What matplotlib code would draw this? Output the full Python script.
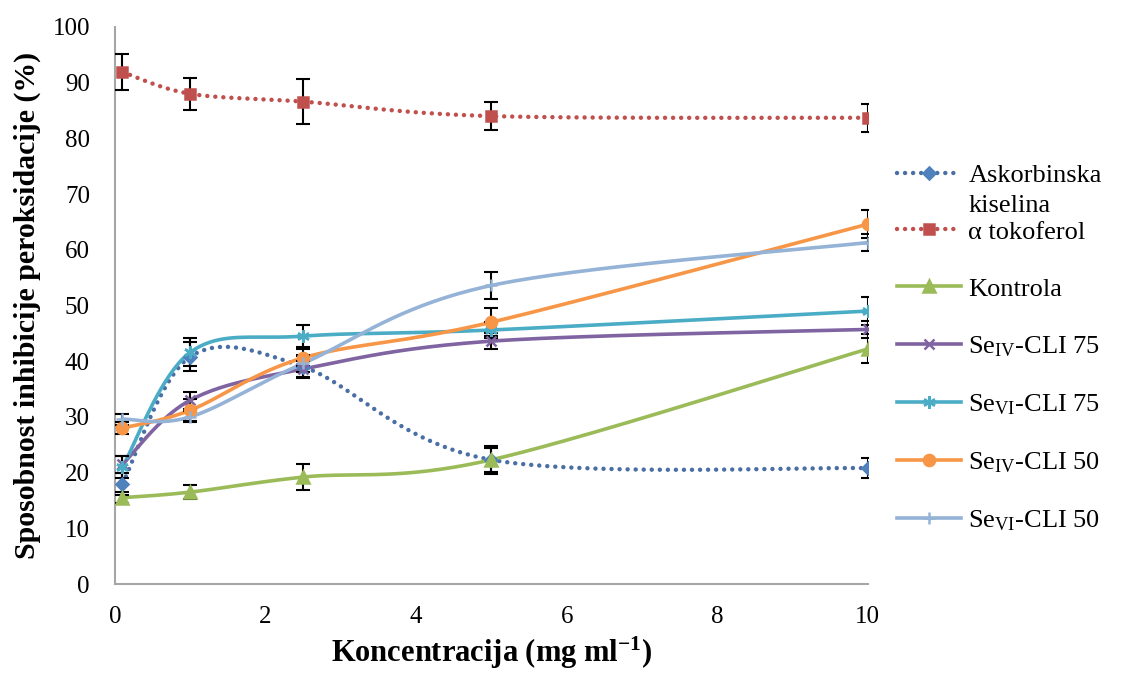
import numpy as np
import matplotlib.pyplot as plt
from matplotlib.lines import Line2D

plt.rcParams['font.family'] = ['Liberation Serif', 'DejaVu Serif']
plt.rcParams['mathtext.fontset'] = 'stix'

# concentrations (mg/ml)
conc = [0.1, 1, 2.5, 5, 10]

# inhibition (%) and error bars per series
askorbinska = [18.0, 40.8, 39.0, 22.3, 20.8]
askorbinska_err = [2.0, 2.6, 2.0, 2.5, 1.8]
tokoferol = [91.9, 88.0, 86.6, 84.0, 83.7]
tokoferol_err = [3.2, 2.9, 4.1, 2.5, 2.5]
kontrola = [15.5, 16.5, 19.2, 22.3, 42.2]
kontrola_err = [1.0, 1.2, 2.3, 2.2, 2.6]
se4_75 = [21.5, 33.0, 38.6, 43.6, 45.7]
se4_75_err = [1.5, 1.5, 1.5, 1.5, 1.5]
se6_75 = [21.0, 41.6, 44.5, 45.6, 49.0]
se6_75_err = [2.0, 2.5, 2.0, 1.5, 2.5]
se4_50 = [28.0, 31.2, 40.6, 47.0, 64.6]
se4_50_err = [1.0, 2.0, 1.5, 2.5, 2.5]
se6_50 = [29.6, 30.0, 39.6, 53.6, 61.3]
se6_50_err = [1.0, 1.0, 1.5, 2.4, 1.5]

labels = ['Askorbinska', 'α tokoferol', 'Kontrola',
          r'Se$\mathregular{_{IV}}$-CLI 75', r'Se$\mathregular{_{VI}}$-CLI 75',
          r'Se$\mathregular{_{IV}}$-CLI 50', r'Se$\mathregular{_{VI}}$-CLI 50']


def smooth(x, y, n=40):
    """Excel-like smoothed line: Catmull-Rom Bezier through the points"""
    p = np.column_stack([x, y]).astype(float)
    ext = np.vstack([p[0], p, p[-1]])
    t = np.linspace(0, 1, n)[:, None]
    out = []
    for i in range(len(p) - 1):
        p0, p1, p2, p3 = ext[i], ext[i + 1], ext[i + 2], ext[i + 3]
        c1 = p1 + (p2 - p0) / 6
        c2 = p2 - (p3 - p1) / 6
        seg = ((1 - t) ** 3) * p1 + 3 * ((1 - t) ** 2) * t * c1 + 3 * (1 - t) * t ** 2 * c2 + t ** 3 * p2
        out.append(seg)
    s = np.vstack(out)
    return s[:, 0], s[:, 1]


fig = plt.figure(figsize=(11.27, 6.74), dpi=100)
ax = fig.add_axes([0.102, 0.1335, 0.668, 0.8265])

dots = (0, (0.01, 1.8))
series = [
    (askorbinska, askorbinska_err, '#4a6fa5', '#4f81bd', 'D', dots, 6),
    (tokoferol, tokoferol_err, '#c0504d', '#c0504d', 's', dots, 7),
    (kontrola, kontrola_err, '#9bbb59', '#9bbb59', '^', '-', 8),
    (se4_75, se4_75_err, '#8064a2', '#8064a2', 'x', '-', 7),
    (se6_75, se6_75_err, '#4bacc6', '#4bacc6', (6, 2, 0), '-', 9),
    (se4_50, se4_50_err, '#f79646', '#f79646', 'o', '-', 8),
    (se6_50, se6_50_err, '#95b3d7', '#95b3d7', '+', '-', 9),
]

handles = []
for (vals, err, lc, mc, mk, ls, ms), lab in zip(series, labels):
    sx, sy = smooth(conc, vals)
    lw = 3.2 if ls is dots else 2.6
    ax.plot(sx, sy, color=lc, lw=lw, ls=ls, zorder=2,
            dash_capstyle='round', solid_capstyle='round')
    ax.errorbar(conc, vals, yerr=err, fmt='none', ecolor='black',
                elinewidth=1.5, capsize=5, capthick=1.5, zorder=3)
    ax.plot(conc, vals, ls='none', marker=mk, ms=ms, color=mc,
            mec=mc, mew=1.8, zorder=4)
    handles.append(Line2D([], [], color=lc, lw=lw, ls=ls, marker=mk,
                          ms=ms, mfc=mc, mec=mc, mew=1.8,
                          dash_capstyle='round'))

ax.set_xlim(0, 10)
ax.set_ylim(0, 100)
ax.set_xticks(range(0, 11, 2))
ax.set_yticks(range(0, 101, 10))
ax.tick_params(length=0, labelsize=18)
ax.tick_params(axis='x', pad=16)
ax.tick_params(axis='y', pad=18)
for side in ['top', 'right']:
    ax.spines[side].set_visible(False)
for side in ['left', 'bottom']:
    ax.spines[side].set_color('#a6a6a6')
    ax.spines[side].set_linewidth(1.5)

ax.set_xlabel('Koncentracija (mg ml$\\mathregular{^{-1}}$)', fontsize=22,
              fontweight='bold', labelpad=5)
ax.set_ylabel('Sposobnost inhibicije peroksidacije (%)', fontsize=21.5,
              fontweight='bold', labelpad=8)

leg = fig.legend(handles, labels, loc='upper left',
                 bbox_to_anchor=(0.775, 0.793), frameon=False, fontsize=19,
                 handlelength=2.4, labelspacing=1.27, handletextpad=0.3)

# second line of the first legend entry sits between the rows
fig.canvas.draw()
bb = leg.get_texts()[0].get_window_extent()
fig.text(bb.x0 / fig.bbox.width, (bb.y0 - 8) / fig.bbox.height, 'kiselina',
         fontsize=19, va='top', ha='left')

fig.savefig('out.png', dpi=100)
